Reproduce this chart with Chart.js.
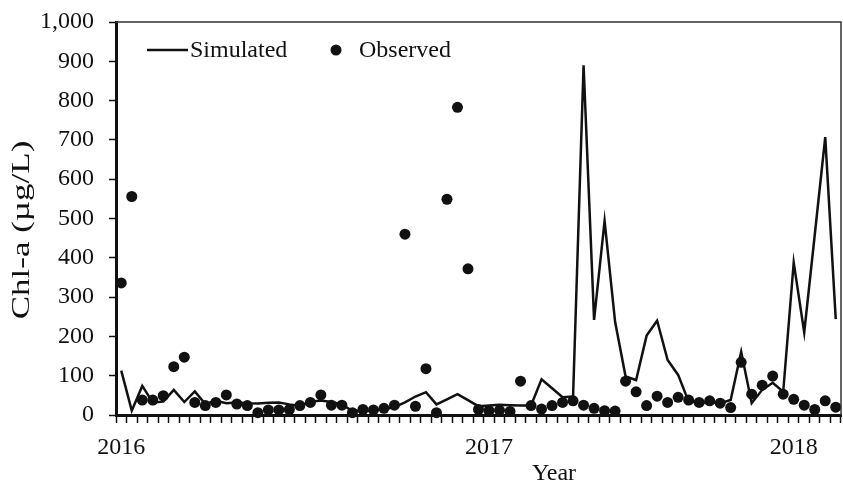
<!DOCTYPE html>
<html>
<head>
<meta charset="utf-8">
<script src="https://cdn.jsdelivr.net/npm/chart.js@4/dist/chart.umd.min.js"></script>
<style>
  html, body { margin: 0; padding: 0; background: #fff; }
  canvas { display: block; }
</style>
</head>
<body>
<canvas id="chart" width="843" height="485"></canvas>
<script>
// Sampling dates, roughly twice a month from early 2016 to early 2018
const yearLabels = ['2016', '2017', '2018'];
const yearLabelIndex = [0, 35, 64];
const sampleCount = 69;

// Simulated Chl-a (µg/L)
const simulated = [
  113, 11, 74, 32, 34, 64, 33, 60, 28, 36,
  30, 32, 30, 29, 31, 32, 27, 23, 34, 37,
  33, 27, 10, 11, 12, 14, 20, 32, 47, 58,
  27, 40, 53, 38, 22, 24, 26, 25, 24, 24,
  91, 68, 45, 47, 890, 242, 494, 237, 98, 89,
  202, 240, 140, 102, 34, 32, 32, 30, 38, 161,
  30, 64, 82, 59, 388, 210, 458, 707, 244
];

// Observed Chl-a (µg/L)
const observed = [
  336, 556, 38, 38, 49, 123, 147, 32, 24, 32,
  51, 28, 24, 6, 13, 13, 14, 24, 32, 51,
  25, 25, 6, 14, 13, 17, 25, 460, 22, 118,
  6, 549, 783, 372, 14, 11, 12, 9, 86, 24,
  15, 24, 32, 36, 25, 17, 11, 10, 86, 59,
  24, 48, 32, 45, 38, 32, 36, 30, 19, 134,
  53, 76, 99, 53, 40, 25, 14, 36, 20
];

const yTicks = { min: 0, max: 1000, step: 100 };
const xTitle = 'Year';
const yTitle = 'Chl-a (µg/L)';

const labels = Array.from({ length: sampleCount }, () => '');
yearLabelIndex.forEach((idx, k) => { labels[idx] = yearLabels[k]; });

const FONT = "'Liberation Serif', 'Times New Roman', serif";
const INK = '#111';

// Top/right frame, axis titles and legend
const decorations = {
  id: 'decorations',
  afterDraw(chart) {
    const { ctx, chartArea: a } = chart;
    ctx.save();
    ctx.strokeStyle = '#333';
    ctx.lineWidth = 1.5;
    ctx.beginPath();
    ctx.moveTo(a.left, a.top);
    ctx.lineTo(a.right, a.top);
    ctx.lineTo(a.right, a.bottom);
    ctx.stroke();

    ctx.fillStyle = INK;
    ctx.textBaseline = 'middle';

    // x title
    ctx.font = '24px ' + FONT;
    ctx.textAlign = 'center';
    ctx.fillText(xTitle, 554, 474);

    // y title, drawn wide along its reading direction
    ctx.save();
    ctx.font = '25px ' + FONT;
    ctx.translate(22, 230);
    ctx.rotate(-Math.PI / 2);
    ctx.scale(1.4, 1);
    ctx.fillText(yTitle, 0, 0);
    ctx.restore();

    // legend
    ctx.font = '24px ' + FONT;
    const ly = 50;
    ctx.strokeStyle = INK;
    ctx.lineWidth = 2.5;
    ctx.beginPath();
    ctx.moveTo(147, ly);
    ctx.lineTo(188, ly);
    ctx.stroke();
    ctx.textAlign = 'left';
    ctx.fillText(chart.data.datasets[0].label, 190, ly + 1);
    ctx.beginPath();
    ctx.arc(336, ly, 5.5, 0, Math.PI * 2);
    ctx.fill();
    ctx.fillText(chart.data.datasets[1].label, 359, ly + 1);
    ctx.restore();
  }
};

new Chart(document.getElementById('chart'), {
  type: 'line',
  data: {
    labels,
    datasets: [
      {
        label: 'Simulated',
        data: simulated,
        borderColor: INK,
        borderWidth: 2.5,
        pointRadius: 0,
        tension: 0,
        fill: false,
        clip: false,
        order: 2
      },
      {
        label: 'Observed',
        data: observed,
        showLine: false,
        pointRadius: 5.5,
        pointBackgroundColor: INK,
        pointBorderColor: INK,
        pointBorderWidth: 0,
        clip: false,
        order: 1
      }
    ]
  },
  options: {
    responsive: false,
    animation: false,
    devicePixelRatio: 1,
    layout: {
      autoPadding: false,
      padding: { top: 22, right: 2, left: 0, bottom: 0 }
    },
    plugins: {
      legend: { display: false },
      tooltip: { enabled: false }
    },
    scales: {
      x: {
        type: 'category',
        offset: true,
        afterFit(scale) {
          scale.height = 70;
          scale.paddingLeft = 0;
          scale.paddingRight = 0;
        },
        grid: {
          offset: true,
          drawOnChartArea: false,
          drawTicks: true,
          tickLength: 8,
          tickWidth: 1.5,
          tickColor: INK
        },
        border: { display: true, color: INK, width: 3 },
        ticks: {
          autoSkip: false,
          maxRotation: 0,
          minRotation: 0,
          padding: 10,
          color: INK,
          font: { family: FONT, size: 24 }
        }
      },
      y: {
        min: yTicks.min,
        max: yTicks.max,
        afterFit(scale) {
          scale.width = 116;
          scale.paddingTop = 0;
          scale.paddingBottom = 0;
        },
        grid: {
          drawOnChartArea: false,
          drawTicks: true,
          tickLength: 7,
          tickWidth: 1.5,
          tickColor: INK
        },
        border: { display: true, color: INK, width: 3 },
        ticks: {
          stepSize: yTicks.step,
          padding: 15,
          color: INK,
          font: { family: FONT, size: 24 }
        }
      }
    }
  },
  plugins: [decorations]
});
</script>
</body>
</html>
